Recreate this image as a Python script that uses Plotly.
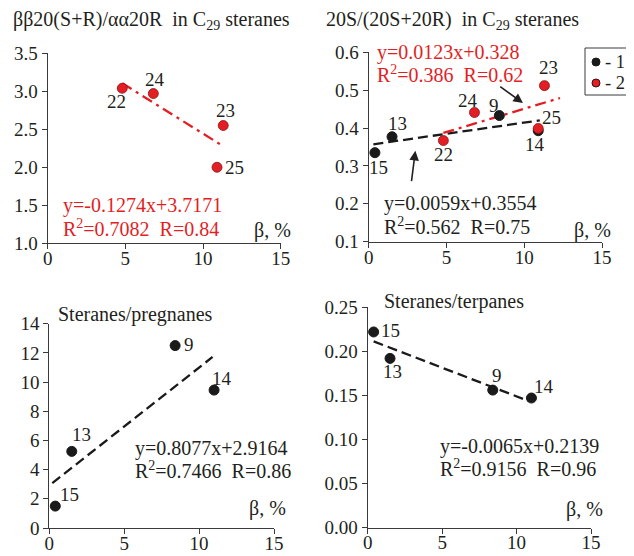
import numpy as np
import plotly.graph_objects as go

# page body has an 8px default margin -> figure drawn at offset (8, 8)
OFF = 8
W, H = 634 - OFF, 556 - OFF
FONT = "Liberation Serif"
TXT = "#231f20"
AX = "#3a3a3a"
RED = "#e31e24"
BLK = "#1a1a1a"

# ---------- data ----------
# Panel A: bb20(S+R)/aa20R in C29 steranes (group 2)
a_lab = ["22", "24", "23", "25"]
a_x = [4.8, 6.8, 11.3, 10.9]
a_y = [3.04, 2.97, 2.55, 2.00]
a_trend_x = [4.8, 11.2]

# Panel B: 20S/(20S+20R) in C29 steranes
b1_lab = ["15", "13", "9", "14"]
b1_x = [0.4, 1.5, 8.4, 10.9]
b1_y = [0.335, 0.377, 0.433, 0.393]
b2_lab = ["22", "24", "23", "25"]
b2_x = [4.8, 6.8, 11.3, 10.9]
b2_y = [0.367, 0.441, 0.512, 0.399]
b1_trend_x = [0.3, 11.0]
b2_trend_x = [4.8, 12.3]

# Panel C: Steranes/pregnanes (group 1)
c_lab = ["15", "13", "9", "14"]
c_x = [0.4, 1.5, 8.4, 11.0]
c_y = [1.5, 5.25, 12.5, 9.45]
c_trend_x = [0.2, 10.9]

# Panel D: Steranes/terpanes (group 1)
d_lab = ["15", "13", "9", "14"]
d_x = [0.4, 1.5, 8.4, 11.0]
d_y = [0.222, 0.192, 0.156, 0.147]
d_trend_x = [0.4, 10.8]

x_ticks = [0, 5, 10, 15]
legend_names = ["- 1", "- 2"]

# regression coefficients (slope, intercept) as printed
a_fit = (-0.1274, 3.7171)
b1_fit = (0.0059, 0.3554)
b2_fit = (0.0123, 0.328)
c_fit = (0.8077, 2.9164)
d_fit = (-0.0065, 0.2139)


def px(x):
    return (x - OFF) / W


def py(y):
    return 1 - (y - OFF) / H


fig = go.Figure()

red_marker = dict(color=RED, size=10, line=dict(color="#8a1414", width=0.8))
blk_marker = dict(color=BLK, size=10, line=dict(color=BLK, width=1))


def trend(xs, fit, xa, ya, color, dash):
    xs = np.array(xs, dtype=float)
    ys = fit[0] * xs + fit[1]
    fig.add_trace(go.Scatter(x=xs, y=ys, mode="lines", xaxis=xa, yaxis=ya,
                             line=dict(color=color, width=2.3, dash=dash),
                             showlegend=False, hoverinfo="skip"))


def pts(xs, ys, marker, xa, ya):
    fig.add_trace(go.Scatter(x=xs, y=ys, mode="markers", xaxis=xa, yaxis=ya,
                             marker=marker, cliponaxis=False, showlegend=False))


DASH = "10px,5px"
DASHDOT = "11px,5px,3px,5px"

# Panel A
trend(a_trend_x, a_fit, "x", "y", RED, DASHDOT)
pts(a_x, a_y, red_marker, "x", "y")
# Panel B
trend(b1_trend_x, b1_fit, "x2", "y2", BLK, DASH)
trend(b2_trend_x, b2_fit, "x2", "y2", RED, DASHDOT)
pts(b1_x, b1_y, blk_marker, "x2", "y2")
pts(b2_x, b2_y, red_marker, "x2", "y2")
# Panel C
trend(c_trend_x, c_fit, "x3", "y3", BLK, DASH)
pts(c_x, c_y, blk_marker, "x3", "y3")
# Panel D
trend(d_trend_x, d_fit, "x4", "y4", BLK, DASH)
pts(d_x, d_y, blk_marker, "x4", "y4")

tickfont = dict(family=FONT, size=19, color=TXT)


def xaxis(dom, anchor):
    return dict(domain=dom, anchor=anchor, range=[0, 15], tickvals=x_ticks,
                showgrid=False, zeroline=False, showline=True, linecolor=AX,
                linewidth=1.2, ticks="outside", ticklen=5, tickcolor=AX,
                tickwidth=1.2, tickfont=tickfont, fixedrange=True,
                automargin=False, ticklabelstandoff=-7)


def yaxis(dom, anchor, rng, dtick, fmt):
    return dict(domain=dom, anchor=anchor, range=rng, dtick=dtick, tick0=rng[0],
                tickformat=fmt, showgrid=False, zeroline=False, showline=True,
                linecolor=AX, linewidth=1.2, ticks="outside", ticklen=5,
                tickcolor=AX, tickwidth=1.2, tickfont=tickfont, fixedrange=True,
                automargin=False)


ann = []
shapes = []


def label_points(labs, xs, ys, offs, xr, yr, color=TXT):
    for l, x, y, (dx, dy) in zip(labs, xs, ys, offs):
        ann.append(dict(x=x, y=y, xref=xr, yref=yr, text=l, showarrow=False,
                        xshift=dx, yshift=-dy,
                        font=dict(family=FONT, size=19, color=color)))


label_points(a_lab, a_x, a_y, [(-6, 13), (2, -14), (2, -15), (17, 0)], "x", "y")
label_points(b1_lab, b1_x, b1_y, [(4, 15), (5, -13), (-5, -10), (-3, 14)], "x2", "y2")
label_points(b2_lab, b2_x, b2_y, [(0, 14), (-6, -12), (4, -18), (13, -11)], "x2", "y2")
label_points(c_lab, c_x, c_y, [(14, -12), (10, -17), (14, -1), (8, -12)], "x3", "y3")
label_points(d_lab, d_x, d_y, [(17, -1), (2, 13), (4, -15), (13, -12)], "x4", "y4")


def text(x, y, t, color=TXT, size=20, anchor="left"):
    ann.append(dict(x=px(x), y=py(y), xref="paper", yref="paper", text=t,
                    showarrow=False, xanchor=anchor, yanchor="middle",
                    borderpad=0,
                    font=dict(family=FONT, size=size, color=color)))


# titles
text(12, 21, "ββ20(S+R)/αα20R  in C<sub>29</sub> steranes")
text(325, 21, "20S/(20S+20R)  in C<sub>29</sub> steranes")
text(57, 314, "Steranes/pregnanes")
text(383, 301, "Steranes/terpanes")

# beta labels
for (x, y) in [(292, 230), (612, 230), (287, 508), (604, 509)]:
    text(x, y, "β, %", anchor="right")

# equations
text(62, 205, "y=-0.1274x+3.7171", color=RED)
text(62, 228, "R<sup>2</sup>=0.7082  R=0.84", color=RED)
text(376, 52, "y=0.0123x+0.328", color=RED)
text(376, 74, "R<sup>2</sup>=0.386  R=0.62", color=RED)
text(383, 203, "y=0.0059x+0.3554")
text(383, 226, "R<sup>2</sup>=0.562  R=0.75")
text(134, 448, "y=0.8077x+2.9164")
text(134, 470, "R<sup>2</sup>=0.7466  R=0.86")
text(439, 446, "y=-0.0065x+0.2139")
text(439, 468, "R<sup>2</sup>=0.9156  R=0.96")

# arrows in panel B
ann.append(dict(x=3.0, y=0.34, ax=2.74, ay=0.256, xref="x2", yref="y2",
                axref="x2", ayref="y2", showarrow=True, arrowhead=2,
                arrowsize=1.2, arrowwidth=1.6, arrowcolor=TXT, text=""))
ann.append(dict(x=9.92, y=0.466, ax=8.36, ay=0.512, xref="x2", yref="y2",
                axref="x2", ayref="y2", showarrow=True, arrowhead=2,
                arrowsize=1.2, arrowwidth=1.6, arrowcolor=TXT, text=""))

# legend box (manual)
shapes.append(dict(type="rect", xref="paper", yref="paper",
                   x0=px(585), x1=px(627.5), y0=py(95), y1=py(48),
                   line=dict(color=AX, width=1), fillcolor="rgba(0,0,0,0)"))
for (cy, col, edge, name) in [(62, BLK, BLK, legend_names[0]),
                              (83, RED, "#3a1010", legend_names[1])]:
    shapes.append(dict(type="circle", xref="paper", yref="paper",
                       xsizemode="pixel", ysizemode="pixel",
                       xanchor=px(596), yanchor=py(cy),
                       x0=-4, x1=4, y0=-4, y1=4,
                       line=dict(color=edge, width=1), fillcolor=col))
    text(604, cy, name, size=18.5)

fig.update_layout(
    width=W, height=H, margin=dict(l=0, r=0, t=0, b=0, autoexpand=False),
    paper_bgcolor="white", plot_bgcolor="white",
    xaxis=xaxis([px(47.7), px(280.7)], "y"),
    yaxis=yaxis([py(243.3), py(53.3)], "x", [1.0, 3.5], 0.5, ".1f"),
    xaxis2=xaxis([px(368.7), px(602)], "y2"),
    yaxis2=yaxis([py(241.7), py(52.3)], "x2", [0.1, 0.6], 0.1, ".1f"),
    xaxis3=xaxis([px(49.3), px(274)], "y3"),
    yaxis3=yaxis([py(528), py(323.7)], "x3", [0, 14], 2, "d"),
    xaxis4=xaxis([px(367.7), px(591)], "y4"),
    yaxis4=yaxis([py(527.5), py(307.3)], "x4", [0, 0.25], 0.05, ".2f"),
    annotations=ann,
    shapes=shapes,
    showlegend=False,
)
fig.write_html("out.html")
